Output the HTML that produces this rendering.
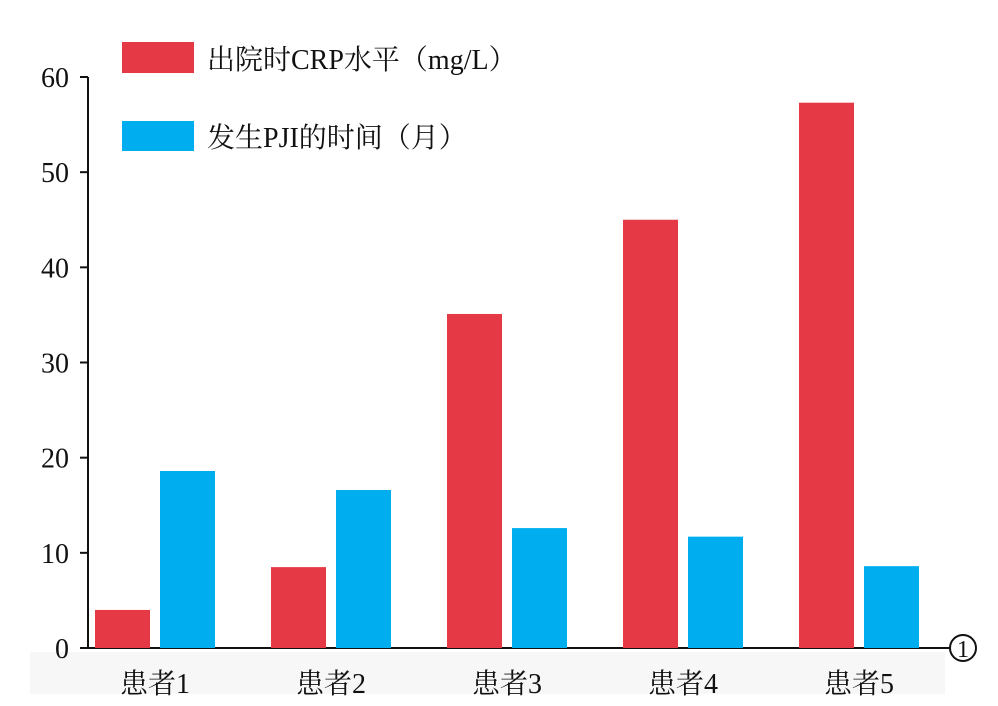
<!DOCTYPE html>
<html><head><meta charset="utf-8">
<style>
html,body{margin:0;padding:0;background:#fff;}
svg{display:block;}
text{font-family:"Liberation Serif","Noto Serif CJK SC",serif;fill:#111;}
</style></head>
<body>
<svg id="chart" width="998" height="706" viewBox="0 0 998 706" xmlns="http://www.w3.org/2000/svg">
<rect x="30" y="652" width="915" height="42" fill="#f7f7f7"/>
<g id="legend">
  <rect x="122" y="42" width="72" height="31" fill="#e63946"/>
  <text x="207" y="69" font-size="28">出院时CRP水平（mg/L）</text>
  <rect x="122" y="121" width="72" height="30" fill="#00aeef"/>
  <text x="207" y="147" font-size="28">发生PJI的时间（月）</text>
</g>
<g id="axes"></g>
<g id="bars"></g>
<circle cx="963" cy="648" r="13" fill="none" stroke="#111" stroke-width="2"/>
<text x="963" y="657" font-size="24" text-anchor="middle">1</text>
</svg>
<script>
const categories = ["患者1","患者2","患者3","患者4","患者5"];
const crpValues = [4, 8.5, 35.1, 45, 57.3];
const pjiValues = [18.6, 16.6, 12.6, 11.7, 8.6];
const yTicks = [0,10,20,30,40,50,60];

const NS="http://www.w3.org/2000/svg";
const y0=648, pxPerUnit=(648-77)/60;
function yScale(v){return y0 - v*pxPerUnit;}
function xGroup(i){return 95 + 176*i;}
const barW=55;
const axes=document.getElementById('axes');
const bars=document.getElementById('bars');
function mk(tag,attrs,parent){const e=document.createElementNS(NS,tag);for(const k in attrs)e.setAttribute(k,attrs[k]);parent.appendChild(e);return e;}

let yl=mk('line',{x1:88,y1:yScale(60),x2:88,y2:y0,stroke:'#111','stroke-width':2},axes);


let xl=mk('line',{x1:87,y1:y0,x2:950,y2:y0,stroke:'#111','stroke-width':2},axes);



yTicks.forEach(t=>{
  const y=yScale(t);
  const tk=mk('line',{x1:80,y1:y,x2:88,y2:y,stroke:'#111','stroke-width':2},axes);
  
  
  const tx=mk('text',{x:69,y:y+10,'font-size':28,'text-anchor':'end'},axes);
  tx.textContent=t;
  
  
});

categories.forEach((c,i)=>{
  const x=xGroup(i);
  const r=mk('rect',{x:x,y:yScale(crpValues[i]),width:barW,height:y0-yScale(crpValues[i]),fill:'#e63946'},bars);
  
  
  const b=mk('rect',{x:x+65,y:yScale(pjiValues[i]),width:barW,height:y0-yScale(pjiValues[i]),fill:'#00aeef'},bars);
  
  
  const tx=mk('text',{x:x+60,y:693,'font-size':28,'text-anchor':'middle'},axes);
  tx.textContent=c;
  
  
});
</script>
</body></html>
